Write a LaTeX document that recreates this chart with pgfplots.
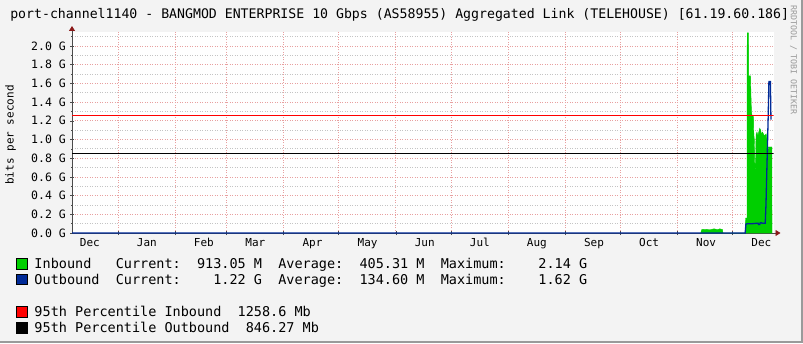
\documentclass[border=0pt]{standalone}
\usepackage{pgfplots}
\pgfplotsset{compat=1.18}
\usepackage{fontspec}
\setmainfont{DejaVu Sans Mono}
\setmonofont{DejaVu Sans Mono}
\usetikzlibrary{arrows.meta}
\definecolor{bgcol}{HTML}{F3F3F3}
\definecolor{inb}{HTML}{00CF00}
\definecolor{outb}{HTML}{002A97}
\definecolor{mgrid}{HTML}{E8A0A0}
\definecolor{ngrid}{HTML}{C4C4C4}
\definecolor{arrowred}{HTML}{8B1A1A}
\definecolor{frame}{HTML}{9A9A9A}
\newcommand{\fs}[1]{\fontsize{#1bp}{#1bp}\selectfont}
\begin{document}
\begin{tikzpicture}[x=1bp,y=1bp]
\useasboundingbox (0,0) rectangle (803,343);
\fill[bgcol] (0,0) rectangle (803,343);
\fill[frame] (801,0) rectangle (803,343);
\fill[frame] (0,0) rectangle (803,2);
\begin{axis}[
  at={(72bp,110bp)}, anchor=south west,
  scale only axis, width=701.5bp, height=201bp,
  xmin=-25, xmax=356.3, ymin=0, ymax=2.15,
  axis background/.style={fill=white},
  axis x line=bottom, axis y line=left,
  x axis line style={draw=black!70, line width=0.8bp, -{Triangle[length=5bp,width=6bp,color=arrowred]}, shorten >=-7bp},
  y axis line style={draw=black!70, line width=0.8bp, -{Triangle[length=5bp,width=6bp,color=arrowred]}, shorten >=-6bp},
  xtick={0,31,59,90,120,151,181,212,243,273,304,334},
  xticklabels={},
  extra x ticks={-15.3,15.7,46.7,74.7,105.7,135.7,166.7,196.7,227.7,258.7,288.7,319.7,349.7},
  extra x tick labels={Dec,Jan,Feb,Mar,Apr,May,Jun,Jul,Aug,Sep,Oct,Nov,Dec},
  extra x tick style={grid=none, major tick length=0pt,
     tick label style={anchor=north, inner sep=0pt, yshift=-5bp, font=\fs{11}}},
  ytick={0,0.2,0.4,0.6,0.8,1.0,1.2,1.4,1.6,1.8,2.0},
  yticklabels={0.0 G,0.2 G,0.4 G,0.6 G,0.8 G,1.0 G,1.2 G,1.4 G,1.6 G,1.8 G,2.0 G},
  minor ytick={0.1,0.3,0.5,0.7,0.9,1.1,1.3,1.5,1.7,1.9,2.1},
  yticklabel style={anchor=east, inner sep=0pt, xshift=-4bp, font=\fs{11.5}},
  xmajorgrids, ymajorgrids, yminorgrids,
  major grid style={draw=mgrid, line width=0.8bp, dash pattern=on 1bp off 1.5bp},
  minor grid style={draw=ngrid, line width=0.8bp, dash pattern=on 1bp off 1.5bp},
  tick align=center, major tick length=4bp, minor tick length=2bp,
  tick style={draw=black!70, line width=0.6bp},
  clip=true,
]
% Inbound
\addplot[fill=inb, draw=inb, line width=0.4bp] coordinates {
(316.8,0) (317.2,0.035) (318,0.04) (319,0.035) (320,0.04) (321,0.035) (322,0.035)
(323,0.04) (324,0.045) (325,0.04) (326,0.035) (327,0.045) (328,0.04) (328.6,0.035) (328.8,0)
(340.9,0) (341.1,0.16) (341.9,0.16) (342.0,2.14) (342.7,2.14) (342.8,1.68) (343.8,1.68)
(344.0,1.5) (344.3,1.3) (344.6,1.26) (345.4,1.26) (345.6,1.05) (345.9,1.0) (346.1,0.75)
(346.5,0.65) (346.8,1.05) (347.3,1.08) (347.8,1.04) (348.3,1.08) (348.8,1.12) (349.3,1.1)
(349.8,1.05) (350.3,1.08) (350.8,1.06) (351.3,1.04) (351.8,1.05) (352.3,1.06) (352.7,1.0)
(352.9,0.85) (353.3,0.85) (353.5,0.92) (355.4,0.92) (355.5,0)
} \closedcycle;
% Outbound
\addplot[draw=outb, line width=1.3bp] coordinates {
(-25,0) (340.9,0) (341.3,0.095) (342,0.1) (345,0.1) (347.8,0.105) (348.2,0.09) (348.8,0.09)
(349.1,0.11) (349.8,0.11) (350,0.105) (351.8,0.105) (352.2,0.3) (352.9,0.85) (353.4,1.24)
(353.8,1.62) (354.6,1.62) (354.9,1.22) (355.3,1.22)
};
% 95th percentiles
\addplot[draw=red, line width=1bp] coordinates {(-25,1.2586) (356.3,1.2586)};
\addplot[draw=black, line width=1bp] coordinates {(-25,0.84627) (356.3,0.84627)};
\end{axis}
% title and labels
\node[anchor=base, inner sep=0pt, font=\fs{13.2}] at (399.7,324.7)
  {port-channel1140 - BANGMOD ENTERPRISE 10 Gbps (AS58955) Aggregated Link (TELEHOUSE) [61.19.60.186]};
\node[rotate=90, inner sep=0pt, font=\fs{11}] at (10.5,208) {bits per second};
\node[rotate=-90, inner sep=0pt, font=\fs{8.3}, text=black!40] at (793.5,283) {RRDTOOL / TOBI OETIKER};
% legend
\filldraw[fill=inb, draw=black, line width=0.8bp] (16.7,74) rectangle (27.3,84.7);
\filldraw[fill=outb, draw=black, line width=0.8bp] (16.7,58.3) rectangle (27.3,69);
\filldraw[fill=red, draw=black, line width=0.8bp] (16.7,25.7) rectangle (27.3,36.3);
\filldraw[fill=black, draw=black, line width=0.8bp] (16.7,10) rectangle (27.3,20.7);
\node[anchor=base west, inner sep=0pt, font=\fs{13.5}] at (34.3,74.7)
  {Inbound~~~Current:~~913.05~M~~Average:~~405.31~M~~Maximum:~~~~2.14~G};
\node[anchor=base west, inner sep=0pt, font=\fs{13.5}] at (34.3,58.7)
  {Outbound~~Current:~~~~1.22~G~~Average:~~134.60~M~~Maximum:~~~~1.62~G};
\node[anchor=base west, inner sep=0pt, font=\fs{13.5}] at (34.3,26.5)
  {95th~Percentile~Inbound~~1258.6~Mb};
\node[anchor=base west, inner sep=0pt, font=\fs{13.5}] at (34.3,10.5)
  {95th~Percentile~Outbound~~846.27~Mb};
\end{tikzpicture}
\end{document}
